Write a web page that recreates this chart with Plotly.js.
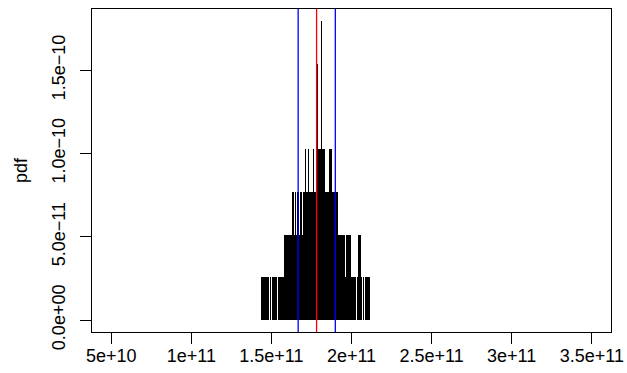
<!DOCTYPE html>
<html>
<head>
<meta charset="utf-8">
<script src="https://cdn.plot.ly/plotly-3.0.1.min.js"></script>
<style>html,body{margin:0;padding:0;background:#fff;}#chart{width:627px;height:373px;}</style>
</head>
<body>
<div id="chart"></div>
<script>
// sample values (units of 1e9) and their counts
const sampleX = [143.56,144.19,144.81,145.44,146.06,146.69,147.31,147.94,149.19,150.44,151.06,151.69,152.31,152.94,154.19,154.81,155.44,156.06,156.69,157.31,
157.94,158.56,159.19,159.81,160.44,161.06,161.69,162.31,162.94,163.56,164.19,164.81,165.44,166.06,166.69,167.31,167.94,168.56,169.19,169.81,170.44,
171.06,171.69,172.31,172.94,173.56,174.19,174.81,175.44,176.06,176.69,177.31,177.94,178.56,179.19,179.81,180.44,181.06,181.69,182.31,182.94,
183.56,184.19,184.81,185.44,186.06,186.69,187.31,187.94,188.56,189.19,189.81,190.44,191.06,191.69,192.31,192.94,193.56,194.19,194.81,195.44,
196.06,196.69,197.31,197.94,198.56,199.19,199.81,200.44,201.06,201.69,202.31,203.56,204.19,204.81,205.44,206.06,207.31,208.56,209.19,209.81,210.44,211.06];
const sampleCount = [1,1,1,1,1,1,1,1,1,1,1,1,1,1,1,1,1,1,1,1,
2,2,2,2,2,2,2,2,3,3,2,3,2,3,3,2,3,3,2,3,3,
4,3,3,4,3,3,3,3,4,3,3,3,6,4,4,4,7,4,4,4,
3,3,3,3,4,4,4,3,3,3,3,3,3,2,2,2,2,2,2,2,
1,2,2,2,2,2,1,1,1,1,1,1,2,2,2,1,1,1,1,1,1,1];
const pdfUnit = 2.565e-11;           // density of one count
const blueLines = [166.7e9, 189.9e9]; // interval bounds
const redLines = [178.2e9];           // estimate
const xTickVals = [5e10, 1e11, 1.5e11, 2e11, 2.5e11, 3e11, 3.5e11];
const xTickText = ["5e+10", "1e+11", "1.5e+11", "2e+11", "2.5e+11", "3e+11", "3.5e+11"];
const yTickVals = [0, 5e-11, 1e-10, 1.5e-10];
const yTickText = ["0.0e+00", "5.0e\u221211", "1.0e\u221210", "1.5e\u221210"];
const yTitle = "pdf";

const xs = sampleX.map(v => v * 1e9);
const ys = sampleCount.map(c => c * pdfUnit);
const ymax = Math.max(...ys);
const xlim = [xTickVals[0], xTickVals[xTickVals.length - 1]];
const xpad = 0.04 * (xlim[1] - xlim[0]);

const shapes = [];
blueLines.forEach(v => shapes.push({type:'line', layer:'above', xref:'x', yref:'paper', x0:v, x1:v, y0:0, y1:1, line:{color:'#0000ff', width:1.3}}));
redLines.forEach(v => shapes.push({type:'line', layer:'above', xref:'x', yref:'paper', x0:v, x1:v, y0:0, y1:1, line:{color:'#ff0000', width:1.3}}));

const trace = {type:'bar', x: xs, y: ys, marker:{color:'#000', line:{width:0}}, hoverinfo:'skip'};

const font = {family:'"Liberation Sans", Arial, sans-serif', size:18, color:'#000'};
const layout = {
  width:627, height:373,
  margin:{l:92, r:16, t:9, b:41},
  paper_bgcolor:'#fff', plot_bgcolor:'#fff',
  showlegend:false, bargap:0, font: font,
  shapes: shapes,
  xaxis:{range:[xlim[0]-xpad, xlim[1]+xpad], tickvals:xTickVals, ticktext:xTickText,
    ticks:'outside', ticklen:11, tickwidth:1, tickcolor:'#000', showline:true, mirror:true,
    linecolor:'#000', linewidth:1, showgrid:false, zeroline:false, tickfont:font, ticklabelstandoff:-4},
  yaxis:{range:[-0.04*ymax, 1.04*ymax], tickvals:yTickVals, ticktext:yTickText, tickangle:-90,
    ticks:'outside', ticklen:11, tickwidth:1, tickcolor:'#000', showline:true, mirror:true,
    linecolor:'#000', linewidth:1, showgrid:false, zeroline:false, tickfont:font, ticklabelstandoff:8,
    title:{text:yTitle, font:font, standoff:16}}
};
Plotly.newPlot('chart', [trace], layout, {staticPlot:true, displayModeBar:false});
</script>
</body>
</html>
